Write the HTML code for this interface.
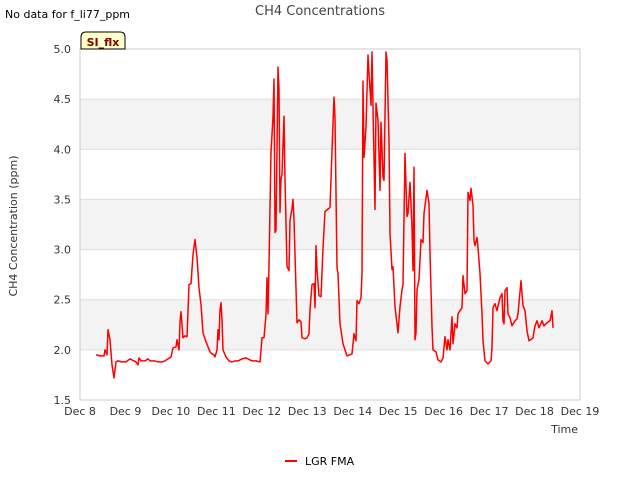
<!DOCTYPE html>
<html><head><meta charset="utf-8"><style>
body{margin:0;background:#fff;font-family:"DejaVu Sans","Liberation Sans",sans-serif;}
</style></head><body>
<svg width="640" height="480" xmlns="http://www.w3.org/2000/svg" font-family="DejaVu Sans, Liberation Sans, sans-serif">
<rect width="640" height="480" fill="#fff"/>
<g id="bands"></g>
<g id="grid"></g>
<rect x="80" y="49" width="500" height="351" fill="none" stroke="#ccc"/>
<g id="yticks" font-size="11" fill="#333" text-anchor="end"></g>
<g id="xticks" font-size="11" fill="#333" text-anchor="middle"></g>
<path id="series" fill="none" stroke="#ff0000" stroke-width="1.5" stroke-linejoin="round"/>
<text x="320" y="15" font-size="13" fill="#444" text-anchor="middle">CH4 Concentrations</text>
<text x="5" y="18" font-size="11" fill="#000">No data for f_li77_ppm</text>
<g>
<path d="M81,49 L81,37 Q81,32 86,32 L120,32 Q125,32 125,37 L125,49 Z" fill="#ffffc8" stroke="#000" stroke-width="1"/>
<text x="103" y="46" font-size="11" font-weight="bold" fill="#800000" text-anchor="middle">SI_flx</text>
</g>
<text transform="translate(17,226) rotate(-90)" font-size="11" fill="#333" text-anchor="middle">CH4 Concentration (ppm)</text>
<text x="578" y="433" font-size="11" fill="#333" text-anchor="end">Time</text>
<g>
<line x1="285" y1="461" x2="297" y2="461" stroke="#ff0000" stroke-width="2"/>
<text x="305" y="465" font-size="11" fill="#000">LGR FMA</text>
</g>
</svg>
<script>
const yTicks=[1.5,2.0,2.5,3.0,3.5,4.0,4.5,5.0];
const xTickLabels=["Dec 8","Dec 9","Dec 10","Dec 11","Dec 12","Dec 13","Dec 14","Dec 15","Dec 16","Dec 17","Dec 18","Dec 19"];
const times=[0.352,0.44,0.528,0.55,0.594,0.616,0.66,0.704,0.748,0.792,0.836,0.924,1.012,1.1,1.188,1.232,1.276,1.298,1.342,1.43,1.496,1.54,1.65,1.716,1.804,1.87,1.936,2.002,2.046,2.112,2.134,2.178,2.2,2.222,2.266,2.31,2.354,2.398,2.442,2.486,2.53,2.574,2.618,2.662,2.706,2.772,2.816,2.86,2.904,2.948,2.97,3.014,3.036,3.058,3.08,3.102,3.124,3.146,3.212,3.278,3.344,3.41,3.476,3.564,3.652,3.696,3.784,3.872,3.96,4.004,4.048,4.092,4.114,4.136,4.158,4.202,4.246,4.268,4.29,4.312,4.356,4.378,4.4,4.422,4.444,4.488,4.51,4.554,4.598,4.62,4.664,4.686,4.708,4.774,4.818,4.862,4.884,4.95,4.994,5.038,5.06,5.104,5.148,5.17,5.192,5.214,5.258,5.302,5.346,5.39,5.5,5.544,5.588,5.61,5.654,5.676,5.72,5.786,5.874,5.984,6.028,6.072,6.094,6.138,6.182,6.204,6.226,6.248,6.292,6.336,6.358,6.402,6.424,6.446,6.49,6.512,6.556,6.6,6.622,6.666,6.688,6.732,6.754,6.798,6.82,6.864,6.886,6.93,6.996,7.04,7.084,7.106,7.15,7.194,7.216,7.26,7.304,7.326,7.348,7.37,7.392,7.414,7.458,7.502,7.546,7.568,7.634,7.678,7.7,7.744,7.766,7.832,7.876,7.942,7.986,8.03,8.074,8.096,8.14,8.184,8.206,8.25,8.294,8.316,8.404,8.426,8.47,8.514,8.536,8.58,8.602,8.646,8.668,8.69,8.734,8.756,8.8,8.844,8.866,8.91,8.976,9.042,9.064,9.086,9.13,9.174,9.24,9.284,9.306,9.328,9.35,9.394,9.416,9.46,9.504,9.57,9.614,9.636,9.702,9.746,9.79,9.834,9.878,9.944,9.966,10.01,10.054,10.098,10.164,10.208,10.274,10.34,10.384,10.406];
const values=[1.95,1.94,1.94,2.0,1.95,2.2,2.1,1.85,1.72,1.88,1.89,1.88,1.88,1.91,1.89,1.88,1.85,1.92,1.89,1.89,1.91,1.89,1.89,1.88,1.88,1.89,1.91,1.93,2.02,2.03,2.1,2.0,2.28,2.38,2.12,2.14,2.13,2.65,2.66,2.95,3.1,2.92,2.62,2.45,2.17,2.08,2.03,1.98,1.96,1.95,1.93,2.0,2.2,2.1,2.4,2.47,2.3,2.0,1.93,1.89,1.88,1.89,1.89,1.91,1.92,1.91,1.89,1.89,1.88,2.12,2.12,2.35,2.72,2.36,2.85,3.97,4.32,4.7,3.17,3.19,4.82,4.6,3.37,3.7,3.75,4.33,3.7,2.83,2.79,3.29,3.41,3.5,3.3,2.27,2.3,2.28,2.12,2.11,2.12,2.16,2.4,2.65,2.66,2.42,3.04,2.8,2.54,2.53,3.01,3.38,3.42,3.98,4.52,4.32,2.82,2.76,2.26,2.06,1.94,1.96,2.16,2.09,2.49,2.46,2.52,2.76,4.68,3.92,4.22,4.94,4.76,4.44,4.97,4.42,3.4,4.46,4.29,3.59,4.27,3.72,3.69,4.97,4.89,4.09,3.16,2.8,2.83,2.43,2.17,2.43,2.6,2.65,3.96,3.33,3.36,3.67,3.22,2.79,3.82,2.1,2.17,2.6,2.7,3.1,3.07,3.36,3.59,3.46,2.97,2.23,2.0,1.98,1.9,1.88,1.92,2.13,2.0,2.1,2.0,2.33,2.06,2.26,2.22,2.36,2.42,2.74,2.56,2.59,3.57,3.49,3.61,3.44,3.09,3.04,3.12,3.02,2.76,2.36,2.09,1.89,1.86,1.89,2.02,2.42,2.46,2.39,2.52,2.56,2.29,2.26,2.59,2.62,2.36,2.32,2.24,2.29,2.31,2.36,2.69,2.44,2.39,2.19,2.09,2.11,2.12,2.24,2.29,2.22,2.29,2.24,2.27,2.29,2.39,2.22];
const NS='http://www.w3.org/2000/svg';
const X0=80,X1=580,Y0=400,Y1=49,DMAX=11,VMIN=1.5,VMAX=5.0;
function xs(d){return X0+(X1-X0)*d/DMAX;}
function ys(v){return Y0-(Y0-Y1)*(v-VMIN)/(VMAX-VMIN);}
const bands=document.getElementById('bands'),grid=document.getElementById('grid'),yt=document.getElementById('yticks'),xt=document.getElementById('xticks');
for(let i=0;i<yTicks.length-1;i++){
  if(i%2===1){
    const r=document.createElementNS(NS,'rect');
    
    
    r.setAttribute('x',X0);r.setAttribute('width',X1-X0);
    r.setAttribute('y',ys(yTicks[i+1]));r.setAttribute('height',ys(yTicks[i])-ys(yTicks[i+1]));
    r.setAttribute('fill','#f3f3f3');bands.appendChild(r);
  }
}
yTicks.forEach(v=>{
  const l=document.createElementNS(NS,'line');
  
  
  l.setAttribute('x1',X0);l.setAttribute('x2',X1);l.setAttribute('y1',ys(v));l.setAttribute('y2',ys(v));
  l.setAttribute('stroke','#ddd');grid.appendChild(l);
  const t=document.createElementNS(NS,'text');
  
  
  t.setAttribute('x',X0-9);t.setAttribute('y',ys(v)+4);t.textContent=v.toFixed(1);yt.appendChild(t);
});
xTickLabels.forEach((s,i)=>{
  const t=document.createElementNS(NS,'text');
  
  
  t.setAttribute('x',xs(i));t.setAttribute('y',415);t.textContent=s;xt.appendChild(t);
});
let d='';
times.forEach((tm,i)=>{d+=(i?'L':'M')+xs(tm).toFixed(1)+','+ys(values[i]).toFixed(1);});
document.getElementById('series').setAttribute('d',d);
</script>
</body></html>
